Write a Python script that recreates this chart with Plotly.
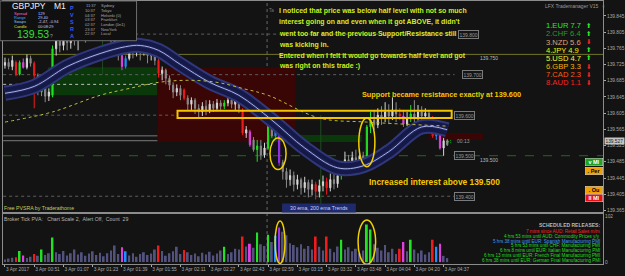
import plotly.graph_objects as go

W, H = 625, 276
FONT = "Liberation Sans, Arial, sans-serif"

# ---------------- data ----------------
bar_open = [
    139.723, 139.730, 139.720, 139.730, 139.701, 139.730, 139.718, 139.740, 139.728, 139.698,
    139.657, 139.681, 139.647, 139.649, 139.764, 139.784, 139.772, 139.796, 139.779, 139.808,
    139.789, 139.801, 139.813, 139.796, 139.821, 139.808, 139.828, 139.813, 139.833, 139.818,
    139.796, 139.772, 139.747, 139.720, 139.740, 139.764, 139.755, 139.772, 139.760, 139.767,
    139.747, 139.755, 139.735, 139.703, 139.711, 139.691, 139.674, 139.657, 139.666, 139.662,
    139.642, 139.627, 139.637, 139.617, 139.608, 139.622, 139.613, 139.627, 139.617, 139.630,
    139.622, 139.630, 139.637, 139.627, 139.635, 139.613, 139.556, 139.559, 139.539, 139.515,
    139.524, 139.502, 139.519, 139.588, 139.549, 139.564, 139.483, 139.461, 139.441, 139.451,
    139.429, 139.441, 139.421, 139.434, 139.417, 139.429, 139.412, 139.426, 139.436, 139.421,
    139.441, 139.431, 139.451, 139.478, 139.490, 139.478, 139.495, 139.485, 139.500, 139.485,
    139.571, 139.588, 139.576, 139.600, 139.593, 139.608, 139.598, 139.613, 139.603, 139.598,
    139.578, 139.593, 139.603, 139.595, 139.608, 139.598, 139.605, 139.593, 139.549, 139.564,
    139.519, 139.537]
bar_high = [
    139.742, 139.740, 139.747, 139.735, 139.735, 139.740, 139.750, 139.747, 139.733, 139.703,
    139.691, 139.686, 139.666, 139.772, 139.808, 139.813, 139.821, 139.813, 139.828, 139.823,
    139.821, 139.833, 139.828, 139.845, 139.838, 139.853, 139.845, 139.858, 139.853, 139.838,
    139.808, 139.784, 139.760, 139.747, 139.774, 139.777, 139.779, 139.777, 139.774, 139.772,
    139.764, 139.760, 139.740, 139.720, 139.715, 139.698, 139.681, 139.676, 139.674, 139.666,
    139.649, 139.644, 139.642, 139.627, 139.632, 139.637, 139.637, 139.635, 139.640, 139.637,
    139.637, 139.652, 139.647, 139.644, 139.642, 139.617, 139.573, 139.564, 139.546, 139.539,
    139.539, 139.532, 139.593, 139.593, 139.576, 139.571, 139.490, 139.470, 139.466, 139.461,
    139.453, 139.446, 139.448, 139.441, 139.441, 139.436, 139.441, 139.451, 139.446, 139.456,
    139.461, 139.466, 139.485, 139.510, 139.502, 139.510, 139.515, 139.515, 139.510, 139.576,
    139.608, 139.613, 139.617, 139.622, 139.632, 139.627, 139.644, 139.632, 139.617, 139.613,
    139.608, 139.625, 139.637, 139.625, 139.622, 139.617, 139.613, 139.598, 139.568, 139.568,
    139.544, 139.541]
bar_low = [
    139.715, 139.713, 139.711, 139.696, 139.698, 139.715, 139.713, 139.720, 139.617, 139.649,
    139.647, 139.632, 139.635, 139.644, 139.747, 139.755, 139.760, 139.760, 139.764, 139.772,
    139.760, 139.784, 139.779, 139.784, 139.789, 139.796, 139.794, 139.801, 139.796, 139.779,
    139.755, 139.735, 139.711, 139.715, 139.735, 139.740, 139.745, 139.735, 139.747, 139.728,
    139.735, 139.723, 139.693, 139.686, 139.676, 139.662, 139.642, 139.647, 139.637, 139.637,
    139.613, 139.613, 139.603, 139.595, 139.598, 139.600, 139.605, 139.608, 139.610, 139.613,
    139.615, 139.622, 139.617, 139.613, 139.605, 139.551, 139.544, 139.522, 139.510, 139.485,
    139.490, 139.495, 139.515, 139.544, 139.544, 139.475, 139.441, 139.421, 139.426, 139.412,
    139.417, 139.404, 139.409, 139.397, 139.402, 139.392, 139.397, 139.412, 139.404, 139.412,
    139.417, 139.421, 139.441, 139.466, 139.461, 139.470, 139.466, 139.475, 139.470, 139.478,
    139.556, 139.564, 139.568, 139.576, 139.583, 139.578, 139.588, 139.583, 139.588, 139.571,
    139.573, 139.583, 139.581, 139.586, 139.578, 139.583, 139.576, 139.544, 139.539, 139.515,
    139.500, 139.524]
bar_close = [
    139.730, 139.720, 139.735, 139.701, 139.730, 139.718, 139.740, 139.728, 139.698, 139.666,
    139.681, 139.647, 139.657, 139.764, 139.784, 139.772, 139.796, 139.779, 139.808, 139.789,
    139.801, 139.813, 139.796, 139.821, 139.808, 139.828, 139.813, 139.833, 139.818, 139.796,
    139.772, 139.747, 139.720, 139.740, 139.764, 139.755, 139.772, 139.760, 139.767, 139.747,
    139.755, 139.735, 139.703, 139.711, 139.691, 139.674, 139.657, 139.666, 139.649, 139.642,
    139.627, 139.637, 139.617, 139.608, 139.622, 139.613, 139.627, 139.617, 139.630, 139.622,
    139.630, 139.637, 139.627, 139.635, 139.617, 139.556, 139.564, 139.527, 139.515, 139.524,
    139.502, 139.519, 139.588, 139.549, 139.568, 139.483, 139.461, 139.441, 139.451, 139.429,
    139.441, 139.421, 139.434, 139.417, 139.429, 139.412, 139.426, 139.436, 139.421, 139.441,
    139.431, 139.451, 139.478, 139.490, 139.478, 139.495, 139.485, 139.500, 139.485, 139.571,
    139.588, 139.576, 139.600, 139.593, 139.608, 139.598, 139.613, 139.603, 139.598, 139.578,
    139.593, 139.603, 139.595, 139.608, 139.598, 139.605, 139.593, 139.549, 139.564, 139.519,
    139.537, 139.527]
tick_volume = [
    6, 8, 10, 11, 25, 15, 9, 12, 18, 14,
    28, 16, 20, 55, 22, 18, 25, 15, 20, 28,
    17, 22, 14, 19, 24, 16, 21, 13, 20, 26,
    37, 18, 33, 24, 15, 20, 12, 18, 22, 16,
    19, 28, 37, 25, 14, 20, 24, 34, 18, 27,
    22, 16, 19, 13, 21, 17, 23, 15, 19, 26,
    34, 18, 22, 30, 28, 57, 35, 41, 32, 66,
    40, 36, 61, 45, 59, 77, 68, 60, 42, 38,
    33, 40, 30, 36, 28, 57, 34, 26, 57, 30,
    22, 35, 50, 28, 33, 24, 30, 20, 26, 84,
    73, 40, 32, 26, 38, 22, 30, 18, 30, 45,
    24, 50, 28, 20, 26, 17, 22, 50, 34, 41,
    14, 9]

# PVSRA candle classes (bar indexes)
climax_bull_bars = [4, 10, 13, 60, 69, 72, 92, 99, 100, 111]
climax_bear_bars = [3, 8, 42, 49, 65, 85, 88, 108, 117]
rising_bull_bars = [33, 74, 118]
rising_bear_bars = [5, 32, 67, 109, 119]
violet_bars = [75]

x_tick_bars = [0, 8, 16, 24, 32, 40, 48, 56, 64, 72, 80, 88, 96, 104, 112, 120]
x_tick_labels = ["3 Apr 2017", "3 Apr 00:51", "3 Apr 01:07", "3 Apr 01:23", "3 Apr 01:39",
                 "3 Apr 01:55", "3 Apr 02:11", "3 Apr 02:27", "3 Apr 02:43", "3 Apr 02:59",
                 "3 Apr 03:15", "3 Apr 03:32", "3 Apr 03:48", "3 Apr 04:04", "3 Apr 04:20",
                 "3 Apr 04:37"]
price_ticks = [139.365, 139.405, 139.445, 139.485, 139.525, 139.565, 139.605, 139.645,
               139.685, 139.725, 139.765, 139.805, 139.845]

ema30_bars = [0, 8, 17, 26, 33, 37, 42, 48, 56, 64, 73, 82, 91, 98, 105, 114, 121]
ema30_vals = [139.654, 139.671, 139.720, 139.752, 139.769, 139.772, 139.760, 139.725, 139.681,
              139.649, 139.588, 139.519, 139.470, 139.475, 139.510, 139.571, 139.564]
ema200_bars = [0, 13, 26, 34, 42, 50, 58, 65, 72, 86, 99, 121]
ema200_vals = [139.583, 139.608, 139.649, 139.666, 139.681, 139.686, 139.681, 139.666, 139.649,
               139.593, 139.583, 139.573]

zone_start = [11.7, 41.7, 72.3, 115.9]
zone_end = [41.7, 79.6, 97.6, 130.9]
zone_low = [139.649, 139.534, 139.534, 139.539]
zone_high = [139.718, 139.718, 139.551, 139.556]
zone_kind = ["demand", "supply", "demand", "supply"]

current_price = 139.527
half_level = 139.600
level_prices = [139.800, 139.700, 139.600, 139.500, 139.400]

currency_names = ["1.EUR", "2.CHF", "3.NZD", "4.JPY", "5.USD", "6.GBP", "7.CAD", "8.AUD"]
currency_strength = [7.7, 6.4, 5.6, 4.9, 4.7, 3.3, 2.3, 1.1]
currency_up = [True, True, False, True, True, False, False, False]

releases = ["7 mins since AUD: Retail Sales m/m",
            "4 hrs 53 mins until AUD: Commodity Prices y/y",
            "5 hrs 38 mins until EUR: Spanish Manufacturing PMI",
            "5 hrs 53 mins until CHF: Manufacturing PMI",
            "6 hrs 8 mins until EUR: Italian Manufacturing PMI",
            "6 hrs 13 mins until EUR: French Final Manufacturing PMI",
            "6 hrs 38 mins until EUR: German Final Manufacturing PMI"]

# ---------------- styling ----------------
BG = "#131313"
PX_RIGHT = 605
X_RANGE = [-0.545, 163.62]
N = len(bar_close)
CANDLE_STYLE = {
    "bull": "#d6d6d6", "bear": "#8a8a8a",
    "climax_bull": "#22e022", "climax_bear": "#ee1c1c",
    "rising_bull": "#1e90ff", "rising_bear": "#e040e0", "violet": "#9a30f0",
}
cls = ["normal"] * N
for i in climax_bull_bars: cls[i] = "climax_bull"
for i in climax_bear_bars: cls[i] = "climax_bear"
for i in rising_bull_bars: cls[i] = "rising_bull"
for i in rising_bear_bars: cls[i] = "rising_bear"
for i in violet_bars: cls[i] = "violet"

fig = go.Figure()

# EMA band (30 ema) and 200 ema
for width, color in [(15, "#30377a"), (11, "#151948"), (3, "#22275c"), (1, "#a9b1e6")]:
    fig.add_trace(go.Scatter(x=ema30_bars, y=ema30_vals, mode="lines",
                             line=dict(color=color, width=width, shape="spline", smoothing=1.0),
                             hoverinfo="skip", showlegend=False))
fig.add_trace(go.Scatter(x=ema200_bars, y=ema200_vals, mode="lines",
                         line=dict(color="#bcbc3c", width=1, dash="dot", shape="spline"),
                         hoverinfo="skip", showlegend=False))


def candle_trace(idx, inc_col, dec_col):
    return go.Candlestick(
        x=idx, open=[bar_open[i] for i in idx], high=[bar_high[i] for i in idx],
        low=[bar_low[i] for i in idx], close=[bar_close[i] for i in idx],
        increasing=dict(line=dict(color=inc_col, width=1), fillcolor=inc_col),
        decreasing=dict(line=dict(color=dec_col, width=1), fillcolor=dec_col),
        whiskerwidth=0, hoverinfo="skip", showlegend=False)


normal = [i for i in range(N) if cls[i] == "normal"]
fig.add_trace(candle_trace(normal, CANDLE_STYLE["bull"], CANDLE_STYLE["bear"]))
for k in ["climax_bull", "climax_bear", "rising_bull", "rising_bear", "violet"]:
    idx = [i for i in range(N) if cls[i] == k]
    fig.add_trace(candle_trace(idx, CANDLE_STYLE[k], CANDLE_STYLE[k]))

vol_colors = ["#52527c" if c == "normal" else CANDLE_STYLE[c] for c in cls]
fig.add_trace(go.Bar(x=list(range(N)), y=tick_volume, marker=dict(color=vol_colors, line=dict(width=0)),
                     width=0.5, xaxis="x2", yaxis="y2", hoverinfo="skip", showlegend=False))

# ---------------- shapes ----------------
shapes = []
zone_fill = {"demand": "#0b380b", "supply": "#3a0505"}
for s, e, lo, hi, k in zip(zone_start, zone_end, zone_low, zone_high, zone_kind):
    shapes.append(dict(type="rect", xref="x", yref="y", x0=s, x1=e, y0=lo, y1=hi,
                       fillcolor=zone_fill[k], line=dict(width=0), layer="below"))

# horizontal level lines
shapes.append(dict(type="line", xref="paper", yref="y", x0=3/W, x1=PX_RIGHT/W, y0=139.750, y1=139.750,
                   line=dict(color="#75752a", width=1), layer="below"))
shapes.append(dict(type="line", xref="paper", yref="y", x0=3/W, x1=PX_RIGHT/W, y0=139.500, y1=139.500,
                   line=dict(color="#1f6a1f", width=1, dash="dash"), layer="below"))
for lv in [139.800, 139.700, 139.400]:
    shapes.append(dict(type="line", xref="x", yref="y", x0=-0.5, x1=123, y0=lv, y1=lv,
                       line=dict(color="#5e5e5e", width=1, dash="dot"), layer="below"))
shapes.append(dict(type="line", xref="x", yref="y", x0=-0.5, x1=47, y0=half_level, y1=half_level,
                   line=dict(color="#5e5e5e", width=1, dash="dot"), layer="below"))
shapes.append(dict(type="line", xref="x", yref="y", x0=-0.5, x1=41.7, y0=139.676, y1=139.676,
                   line=dict(color="#bdbdbd", width=1, dash="dot"), layer="below"))
for lv in [139.549, 139.537]:
    shapes.append(dict(type="line", xref="x", yref="y", x0=-0.5, x1=41.7, y0=lv, y1=lv,
                       line=dict(color="#7a7a7a", width=1), layer="below"))
# vertical lines
shapes.append(dict(type="line", xref="x", yref="paper", x0=71.7, x1=71.7, y0=1-265/H, y1=1,
                   line=dict(color="#6a6a6a", width=1, dash="dot"), layer="below"))
shapes.append(dict(type="line", xref="x", yref="y", x0=26.7, x1=26.7, y0=139.70, y1=139.81,
                   line=dict(color="#1d4d1d", width=1), layer="below"))
shapes.append(dict(type="line", xref="x", yref="y", x0=86.4, x1=86.4, y0=139.37, y1=139.60,
                   line=dict(color="#1d4d1d", width=1), layer="below"))

# yellow half-level box and ellipses
shapes.append(dict(type="rect", xref="x", yref="y", x0=47.2, x1=122.2, y0=139.593, y1=139.611,
                   line=dict(color="#f2c400", width=2), fillcolor="rgba(0,0,0,0)", layer="above"))
for x0, x1, y0, y1, yr in [(72.5, 76.9, 139.466, 139.544, "y"), (96.8, 101.2, 139.473, 139.593, "y"),
                           (73.9, 76.6, -3, 92, "y2"), (96.6, 101.4, -5, 94, "y2")]:
    shapes.append(dict(type="circle", xref="x", yref=yr, x0=x0, x1=x1, y0=y0, y1=y1,
                       line=dict(color="#f2d000", width=1.5), layer="above"))

# info panel box
shapes.append(dict(type="rect", xref="paper", yref="paper", x0=0, x1=137/W, y0=1-40/H, y1=1,
                   fillcolor="#101010", line=dict(color="#6e6e6e", width=1), layer="above"))
# ema trends label box
shapes.append(dict(type="rect", xref="paper", yref="paper", x0=283/W, x1=357/W, y0=1-213/H, y1=1-204/H,
                   fillcolor="#1f2a6c", line=dict(width=0), layer="above"))

# ---------------- annotations ----------------
ann = []


def T(text, x, y, size=6.0, color="#a0a0a0", xanchor="left", bold=False, family=FONT, **kw):
    if bold:
        text = f"<b>{text}</b>"
    d = dict(text=text, x=x / W, y=1 - y / H, xref="paper", yref="paper", xanchor=xanchor,
             yanchor="middle", showarrow=False, borderpad=0,
             font=dict(size=size, color=color, family=family))
    d.update(kw)
    ann.append(d)


# info panel
T("GBPJPY", 11, 5.5, 8.5, "#f0f0f0")
T("M1", 53, 5.5, 8.5, "#f0f0f0")
for lbl, val, col, yy in [("Spread", "129", "#ff66cc", 12.5), ("Range", "29.40", "#4aa0ff", 16.8),
                          ("Swaps", "-2.47, -0.94", "#7fd0ff", 21.1), ("Candle", "00:08:29", "#e0e040", 25.4)]:
    T(lbl, 13, yy, 4.0, col)
    T(val, 37, yy, 4.0, "#c8c8ff")
T(f"{current_price:.2f}", 16, 33.5, 10.5, "#2fe02f")
T("?", 49, 35, 5, "#9a9a9a")
for k, ch in enumerate("PVSRA"):
    T(ch, 72, 7 + 7.0 * k, 5.4, "#3a5cf0", xanchor="center", bold=True)
for k, (tm, city) in enumerate([("11:37", "Sydney"), ("10:37", "Tokyo"), ("04:37", "Helsinki (0)"),
                                ("03:37", "Frankfurt"), ("02:37", "London (0n1)"),
                                ("23:37", "NewYork"), ("22:37", "Local")]):
    T(tm, 97, 5 + 4.7 * k, 4.0, "#a8a8a8", xanchor="right")
    T(city, 100, 5 + 4.7 * k, 4.0, "#a8a8a8")

# commentary
lime = "#d2ee1c"
para = ["I noticed that price was below half level with not so much",
        "interest going on and even when it got ABOVE, it didn't",
        "went too far and the previous Support/Resistance still",
        "was kicking in."]
for k, line in enumerate(para):
    T(line, 279, 10 + 11.4 * k, 6.9, lime, bold=True)
para2 = ["Entered when I felt it would go towards half level and got",
         "was right on this trade :)"]
for k, line in enumerate(para2):
    T(line, 279, 55 + 10.5 * k, 6.9, lime, bold=True)
gold = "#f5c800"
T("Support became resistance exactly at 139.600", 362, 94, 7.3, gold, bold=True)
T("Increased interest above 139.500", 369, 182, 8.4, gold, bold=True)

T("Ta", 269, 10, 4.5, "#7a7a7a")

# level labels
box = dict(bordercolor="#7a7a7a", borderwidth=1, bgcolor="#151515")
for lv, xx in zip(level_prices, [459, 463, 455, 455, 455]):
    ann.append(dict(text=f"{lv:.3f}", x=(xx - 5) / 3.667, y=lv, xref="x", yref="y", xanchor="left",
                    yanchor="middle", showarrow=False, borderpad=0.5,
                    font=dict(size=5, color="#9a9a9a", family=FONT), **box))
T("139.750", 481, 57, 5, "#b8b8b8")
T("139.500", 481, 160.5, 5, "#b8b8b8")
T("+:", 446, 141, 6, "#22dd22", bold=True)
T("00:13", 457, 141, 5, "#9a9a9a")

# LFX table
T("LFX Trademanager V15", 602, 5, 5, "#9c9c9c", xanchor="right")
T("○", 603, 5, 5, "#9c9c9c")
cur_cols = ["#1ef01e", "#2a9a2a", "#e0a070", "#f0f000", "#f5f530", "#f5b000", "#ff5a10", "#ff2020"]
for k, (nm, st, up, col) in enumerate(zip(currency_names, currency_strength, currency_up, cur_cols)):
    yy = 25 + 8.2 * k
    T(f"{nm} {st:.1f}", 547, yy, 7.6, col)
    T("⬆" if up else "⬇", 590.5, yy, 6.5, "#22ee22" if up else "#ff2020", xanchor="center",
      family="DejaVu Sans")

# buttons
for txt, yy, bg, fc in [("v MI", 162.5, "#22a022", "#ffffff"), (". Per", 171.5, "#f0a000", "#000000"),
                        (". Ou", 190.5, "#f0a000", "#000000"), ("II MI", 198.5, "#e81010", "#ffffff")]:
    ann.append(dict(text=f"<b>{txt}</b>", x=595.5 / W, y=1 - yy / H, xref="paper", yref="paper",
                    xanchor="center", yanchor="middle", showarrow=False, width=17, height=7,
                    bgcolor=bg, bordercolor="#dddddd", borderwidth=0.5, borderpad=0,
                    font=dict(size=5.5, color=fc, family=FONT)))

# current price tag on axis
T(f"{current_price:.3f}", 606, 141, 4.8, "#202020", bgcolor="#c4c4c4", borderpad=0.5)

# bottom texts
T("Free PVSRA by Traderathome", 3, 208.5, 5.2, "#c8c860")
T("30 ema, 200 ema Trends", 320, 208.5, 5.2, "#c8d0ff", xanchor="center")
T("Broker Tick PVA:   Chart Scale 2,  Alert Off,  Count  29", 3, 219.5, 5.2, "#b4b4b4")
T("SCHEDULED RELEASES:", 603, 226, 5, "#b8b8b8", xanchor="right", bold=True)
rel_cols = ["#ff2020", "#22dd22", "#3b9bff", "#22dd22", "#22dd22", "#22dd22", "#22dd22"]
for k, (r, c) in enumerate(zip(releases, rel_cols)):
    T(r, 603, 232.5 + 4.75 * k, 4.6, c, xanchor="right")

# ---------------- layout ----------------
axis_common = dict(showgrid=False, zeroline=False, showline=True, linecolor="#8c8c8c", linewidth=1,
                   mirror=True)
tickfont = dict(size=4.8, color="#a8a8a8", family=FONT)
fig.update_layout(
    width=W, height=H, margin=dict(l=0, r=0, t=0, b=0),
    paper_bgcolor=BG, plot_bgcolor=BG, showlegend=False, boxgap=0.55,
    xaxis=dict(domain=[3 / W, PX_RIGHT / W], range=X_RANGE, anchor="y", showticklabels=False,
               rangeslider=dict(visible=False), ticks="", **axis_common),
    yaxis=dict(domain=[1 - 213 / H, 1], range=[139.360, 139.8817], side="right", anchor="x",
               tickvals=price_ticks, ticktext=[f"{v:.3f}" for v in price_ticks],
               tickfont=tickfont, ticks="outside", ticklen=2, tickcolor="#a8a8a8", **axis_common),
    xaxis2=dict(domain=[3 / W, PX_RIGHT / W], range=X_RANGE, anchor="y2", matches="x",
                tickvals=x_tick_bars, ticktext=x_tick_labels, ticklabelposition="outside right",
                tickangle=0, tickfont=tickfont, ticks="outside", ticklen=2,
                tickcolor="#a8a8a8", **axis_common),
    yaxis2=dict(domain=[1 - 265 / H, 1 - 215 / H], range=[-4.4, 106.4], side="right", anchor="x2",
                tickvals=[0, 102], ticktext=["0", "102"], tickfont=tickfont,
                ticks="", **axis_common),
    shapes=shapes, annotations=ann,
)

fig.write_html("out.html")
